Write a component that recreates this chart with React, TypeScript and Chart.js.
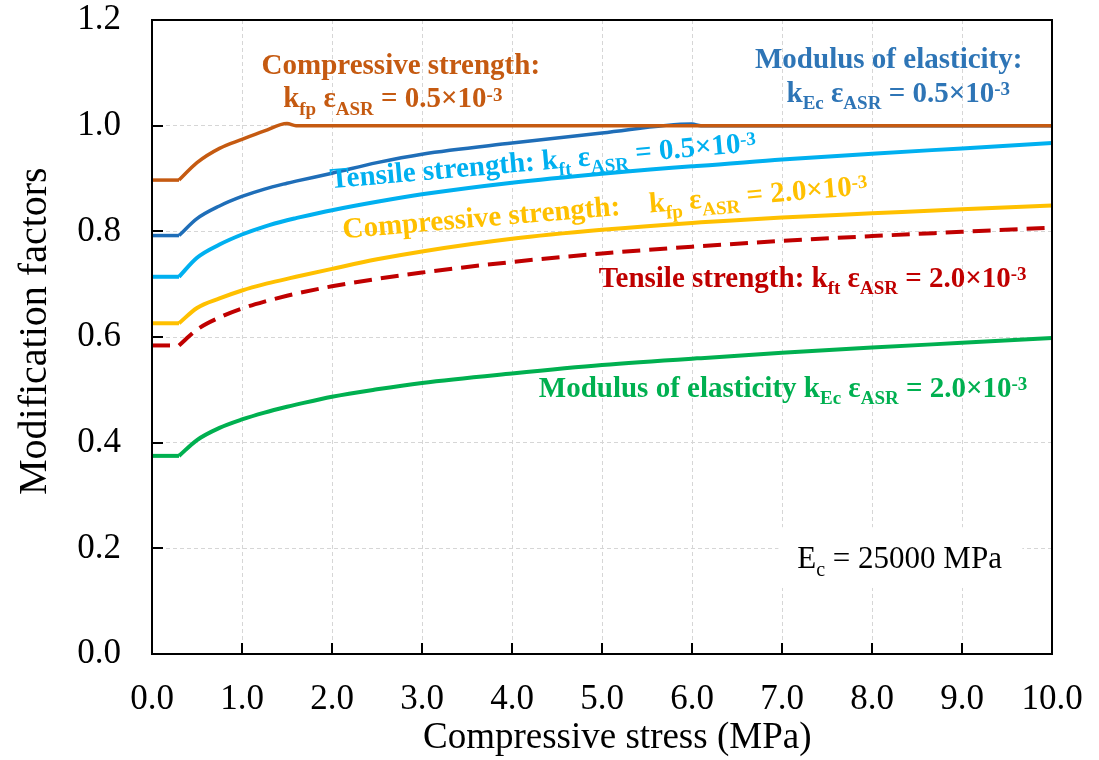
import { useEffect, useRef } from "react";
import { Chart, registerables } from "chart.js";

Chart.register(...registerables);

// Compressive stress (MPa) sampling points
const stress = [0, 0.3, 0.5, 0.75, 1.0, 1.25, 1.5, 1.6, 2.0, 2.5, 3.0, 4.0, 5.0, 6.0, 6.1, 7.0, 8.0, 9.0, 10.0];

// Modification factors for eps_ASR = 0.5e-3
const kfp05 = [0.897, 0.897, 0.930, 0.957, 0.974, 0.990, 1.004, 1.0, 1.0, 1.0, 1.0, 1.0, 1.0, 1.0, 1.0, 1.0, 1.0, 1.0, 1.0];
const kEc05 = [0.792, 0.792, 0.824, 0.848, 0.866, 0.880, 0.891, 0.895, 0.910, 0.930, 0.946, 0.967, 0.986, 1.003, 1.0, 1.0, 1.0, 1.0, 1.0];
const kft05 = [0.714, 0.714, 0.750, 0.775, 0.794, 0.809, 0.821, 0.825, 0.840, 0.856, 0.870, 0.892, 0.909, 0.923, 0.924, 0.936, 0.947, 0.957, 0.967];

// Modification factors for eps_ASR = 2.0e-3
const kfp20 = [0.626, 0.626, 0.655, 0.673, 0.688, 0.700, 0.710, 0.714, 0.729, 0.747, 0.762, 0.786, 0.803, 0.816, 0.817, 0.826, 0.834, 0.842, 0.849];
const kft20 = [0.584, 0.584, 0.614, 0.637, 0.654, 0.667, 0.678, 0.682, 0.696, 0.710, 0.722, 0.742, 0.758, 0.771, 0.772, 0.782, 0.791, 0.799, 0.807];
const kEc20 = [0.375, 0.375, 0.405, 0.428, 0.444, 0.457, 0.468, 0.472, 0.487, 0.501, 0.513, 0.531, 0.547, 0.559, 0.560, 0.570, 0.580, 0.589, 0.598];

const xTicks = [0, 1, 2, 3, 4, 5, 6, 7, 8, 9, 10];
const yTicks = [0, 0.2, 0.4, 0.6, 0.8, 1.0, 1.2];

const SERIF = '"Liberation Serif", "Times New Roman", serif';

const C_BROWN = "#C55A11";
const C_BLUE = "#1F6EB8";
const C_BLUE_TXT = "#2E75B6";
const C_CYAN = "#00B0F0";
const C_YELLOW = "#FFC000";
const C_RED = "#C00000";
const C_GREEN = "#00B050";

type Run = { t: string; k?: "sub" | "sup" };

const eps = "\u03B5";

function drawRich(
  ctx: CanvasRenderingContext2D,
  runs: Run[],
  x: number,
  y: number,
  size: number,
  color: string,
  angle = 0,
  anchor: "left" | "right" = "left",
  weight = "bold"
) {
  const small = Math.round(size * 0.66);
  const fontFor = (r: Run) => `${weight} ${r.k ? small : size}px ${SERIF}`;
  let total = 0;
  const widths = runs.map((r) => {
    ctx.font = fontFor(r);
    const w = ctx.measureText(r.t).width;
    total += w;
    return w;
  });
  ctx.save();
  ctx.translate(x, y);
  ctx.rotate((angle * Math.PI) / 180);
  ctx.fillStyle = color;
  ctx.textAlign = "left";
  ctx.textBaseline = "alphabetic";
  let cx = anchor === "right" ? -total : 0;
  runs.forEach((r, i) => {
    ctx.font = fontFor(r);
    const dy = r.k === "sub" ? size * 0.26 : r.k === "sup" ? -size * 0.23 : 0;
    ctx.fillText(r.t, cx, dy);
    cx += widths[i];
  });
  ctx.restore();
}

const decorPlugin = {
  id: "decor",
  beforeDatasetsDraw(chart: any) {
    const { ctx, scales } = chart;
    const xs = scales.x;
    const ys = scales.y;
    // white backing for the Ec note
    ctx.save();
    ctx.fillStyle = "#ffffff";
    const bx0 = xs.getPixelForValue(6.96);
    const bx1 = xs.getPixelForValue(9.67);
    const by0 = ys.getPixelForValue(0.24);
    const by1 = ys.getPixelForValue(0.125);
    ctx.fillRect(bx0, by0, bx1 - bx0, by1 - by0);
    ctx.restore();
  },
  afterDraw(chart: any) {
    const { ctx, chartArea, scales } = chart;
    const xs = scales.x;
    const ys = scales.y;
    const { left, right, top, bottom } = chartArea;

    // inward tick marks
    ctx.save();
    ctx.strokeStyle = "#000";
    ctx.lineWidth = 2;
    ctx.beginPath();
    xTicks.forEach((v) => {
      const px = Math.round(xs.getPixelForValue(v));
      ctx.moveTo(px, bottom);
      ctx.lineTo(px, bottom - 11);
    });
    yTicks.forEach((v) => {
      const py = Math.round(ys.getPixelForValue(v));
      ctx.moveTo(left, py);
      ctx.lineTo(left + 11, py);
    });
    ctx.stroke();

    // plot frame
    ctx.lineWidth = 2;
    ctx.strokeRect(left, top, right - left, bottom - top);
    ctx.restore();

    // axis titles
    ctx.save();
    ctx.fillStyle = "#000";
    ctx.textBaseline = "alphabetic";
    ctx.textAlign = "left";
    ctx.font = `37px ${SERIF}`;
    ctx.fillText("Compressive stress (MPa)", left + 271, bottom + 94);
    ctx.translate(46, bottom - 159);
    ctx.rotate(-Math.PI / 2);
    ctx.font = `40px ${SERIF}`;
    ctx.fillText("Modification factors", 0, 0);
    ctx.restore();

    const P = (xv: number, yv: number) => [xs.getPixelForValue(xv), ys.getPixelForValue(yv)];

    // curve labels
    let p = P(1.218, 1.097);
    drawRich(ctx, [{ t: "Compressive strength:" }], p[0], p[1], 29, C_BROWN);
    p = P(1.457, 1.035);
    drawRich(
      ctx,
      [{ t: "k" }, { t: "fp", k: "sub" }, { t: " " + eps }, { t: "ASR", k: "sub" }, { t: " = 0.5\u00D710" }, { t: "-3", k: "sup" }],
      p[0], p[1], 29, C_BROWN
    );

    p = P(6.70, 1.109);
    drawRich(ctx, [{ t: "Modulus of elasticity:" }], p[0], p[1], 29, C_BLUE_TXT);
    p = P(7.05, 1.045);
    drawRich(
      ctx,
      [{ t: "k" }, { t: "Ec", k: "sub" }, { t: " " + eps }, { t: "ASR", k: "sub" }, { t: " = 0.5\u00D710" }, { t: "-3", k: "sup" }],
      p[0], p[1], 29, C_BLUE_TXT
    );

    p = P(1.986, 0.8815);
    drawRich(
      ctx,
      [{ t: "Tensile strength: k" }, { t: "ft", k: "sub" }, { t: " " + eps }, { t: "ASR", k: "sub" }, { t: " = 0.5\u00D710" }, { t: "-3", k: "sup" }],
      p[0], p[1], 29, C_CYAN, -5
    );

    p = P(2.126, 0.787);
    drawRich(
      ctx,
      [{ t: "Compressive strength:    k" }, { t: "fp", k: "sub" }, { t: " " + eps }, { t: "ASR", k: "sub" }, { t: " = 2.0\u00D710" }, { t: "-3", k: "sup" }],
      p[0], p[1], 29, C_YELLOW, -4.8
    );

    p = P(4.965, 0.695);
    drawRich(
      ctx,
      [{ t: "Tensile strength: k" }, { t: "ft", k: "sub" }, { t: " " + eps }, { t: "ASR", k: "sub" }, { t: " = 2.0\u00D710" }, { t: "-3", k: "sup" }],
      p[0], p[1], 29, C_RED
    );

    p = P(9.726, 0.487);
    drawRich(
      ctx,
      [{ t: "Modulus of elasticity k" }, { t: "Ec", k: "sub" }, { t: " " + eps }, { t: "ASR", k: "sub" }, { t: " = 2.0\u00D710" }, { t: "-3", k: "sup" }],
      p[0], p[1], 29, C_GREEN, 0, "right"
    );

    p = P(7.17, 0.1624);
    drawRich(ctx, [{ t: "E" }, { t: "c", k: "sub" }, { t: " = 25000 MPa" }], p[0], p[1], 31, "#000", 0, "left", "normal");
  },
};

// Each curve: a straight plateau up to 0.3 MPa, then a smooth rising branch.
function curve(values: number[], color: string, width: number, dash: number[] = []) {
  const pts = stress.map((x, i) => ({ x, y: values[i] }));
  const common = { pointRadius: 0, borderWidth: width, borderColor: color, borderDash: dash, fill: false };
  return [
    { ...common, data: pts.slice(0, 2), tension: 0 },
    { ...common, data: pts.slice(1), cubicInterpolationMode: "monotone" as const },
  ];
}

function zeroPadding(s: any) {
  s.paddingTop = 0;
  s.paddingBottom = 0;
  s.paddingLeft = 0;
  s.paddingRight = 0;
}

export default function App() {
  const canvasRef = useRef<HTMLCanvasElement | null>(null);

  useEffect(() => {
    if (!canvasRef.current) return;
    Chart.defaults.font.family = SERIF;
    const chart = new Chart(canvasRef.current, {
      type: "line",
      data: {
        datasets: [
          ...curve(kfp05, C_BROWN, 3.5),
          ...curve(kEc05, C_BLUE, 3.5),
          ...curve(kft05, C_CYAN, 4),
          ...curve(kfp20, C_YELLOW, 4),
          ...curve(kft20, C_RED, 4, [18, 9]),
          ...curve(kEc20, C_GREEN, 4),
        ] as any,
      },
      options: {
        animation: false,
        responsive: true,
        maintainAspectRatio: false,
        layout: { padding: { left: 0, right: 47, top: 20, bottom: 0 } },
        plugins: { legend: { display: false }, tooltip: { enabled: false } },
        scales: {
          x: {
            type: "linear",
            min: 0,
            max: 10,
            afterFit: (s: any) => { s.height = 106; zeroPadding(s); },
            afterBuildTicks: (s: any) => { s.ticks = xTicks.map((v) => ({ value: v })); },
            grid: { color: "#d6d6d6", lineWidth: 1, drawTicks: false },
            border: { display: false, dash: [4, 3] },
            ticks: {
              color: "#000",
              padding: 25,
              maxRotation: 0,
              font: { size: 35, family: SERIF },
              callback: (v: any) => Number(v).toFixed(1),
            },
          },
          y: {
            min: 0,
            max: 1.2,
            afterFit: (s: any) => { s.width = 152; zeroPadding(s); },
            afterBuildTicks: (s: any) => { s.ticks = yTicks.map((v) => ({ value: v })); },
            grid: { color: "#d6d6d6", lineWidth: 1, drawTicks: false },
            border: { display: false, dash: [4, 3] },
            ticks: {
              color: "#000",
              padding: 31,
              font: { size: 35, family: SERIF },
              callback: (v: any) => Number(v).toFixed(1),
            },
          },
        },
      },
      plugins: [decorPlugin],
    });
    return () => chart.destroy();
  }, []);

  return (
    <div style={{ position: "absolute", left: 0, top: 0, width: 1099, height: 760, background: "#fff" }}>
      <canvas ref={canvasRef} />
    </div>
  );
}
